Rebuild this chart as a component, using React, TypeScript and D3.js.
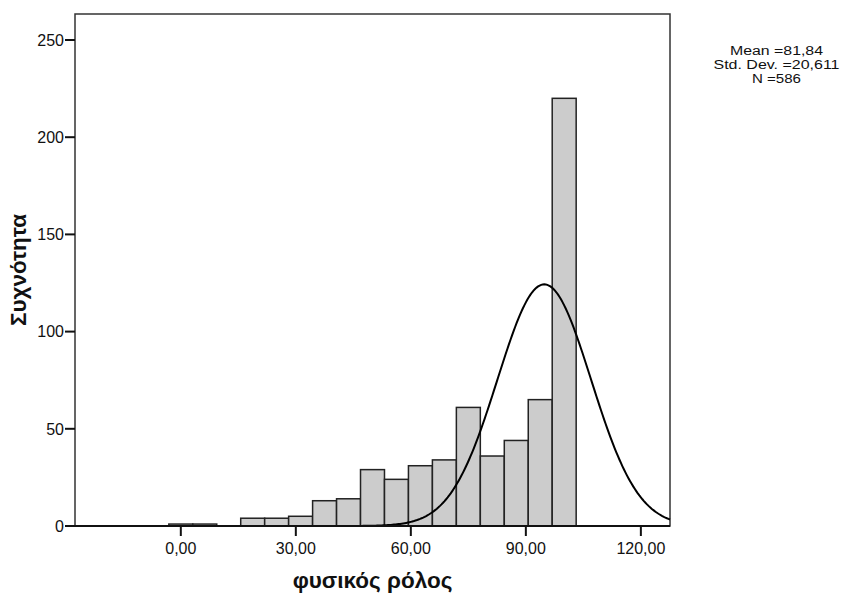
import React from "react";
import * as d3 from "d3";

const binCenters = [0, 6.25, 12.5, 18.75, 25, 31.25, 37.5, 43.75, 50, 56.25, 62.5, 68.75, 75, 81.25, 87.5, 93.75, 100];
const counts = [1, 1, 0, 4, 4, 5, 13, 14, 29, 24, 31, 34, 61, 36, 44, 65, 220];
const binWidth = 6.25;
const xTicks = [0, 30, 60, 90, 120];
const yTicks = [0, 50, 100, 150, 200, 250];
const statsLines = ["Mean =81,84", "Std. Dev. =20,611", "N =586"];
// normal curve as drawn in the reference (peak location, spread, peak height)
const curveMu = 94.8;
const curveSigma = 12.2;
const curvePeak = 124.3;

const W = 845, H = 595;
const left = 75, right = 670, top = 14, bottom = 526;

export default function App() {
  const x = d3.scaleLinear().domain([-27.6, 127.6]).range([left, right]);
  const y = d3.scaleLinear().domain([0, 250]).range([bottom, 40]);
  const font = "'Liberation Sans', Arial, sans-serif";

  const curvePts: [number, number][] = d3.range(-27.6, 127.61, 0.4).map((v) => [
    v,
    curvePeak * Math.exp(-((v - curveMu) ** 2) / (2 * curveSigma * curveSigma)),
  ]);
  const line = d3
    .line<[number, number]>()
    .x((d) => x(d[0]))
    .y((d) => y(d[1]))
    .curve(d3.curveLinear);

  const statsWidths = [93, 126, 49];

  return (
    <svg width={W} height={H} style={{ position: "absolute", left: 0, top: 0, background: "#fff" }}>
      <rect x={0} y={0} width={W} height={H} fill="#fff" />
      <rect x={left} y={top} width={right - left} height={bottom - top} fill="none" stroke="#333" strokeWidth={1.5} />
      {binCenters.map((c, i) =>
        counts[i] > 0 ? (
          <rect
            key={i}
            x={x(c - binWidth / 2)}
            y={y(counts[i])}
            width={x(c + binWidth / 2) - x(c - binWidth / 2)}
            height={bottom - y(counts[i])}
            fill="#cccccc"
            stroke="#222"
            strokeWidth={1.5}
          />
        ) : null
      )}
      <path d={line(curvePts) || ""} fill="none" stroke="#000" strokeWidth={2} />
      <line x1={left} x2={right} y1={bottom} y2={bottom} stroke="#111" strokeWidth={2} />
      {yTicks.map((t) => (
        <g key={t}>
          <line x1={left - 10} x2={left} y1={y(t)} y2={y(t)} stroke="#111" strokeWidth={2} />
          <text x={left - 11} y={y(t)} dy="0.36em" textAnchor="end" fontFamily={font} fontSize={16} fill="#111">
            {t}
          </text>
        </g>
      ))}
      {xTicks.map((t) => (
        <g key={t}>
          <line x1={x(t)} x2={x(t)} y1={bottom} y2={bottom + 10} stroke="#111" strokeWidth={2} />
          <text x={x(t)} y={554} textAnchor="middle" fontFamily={font} fontSize={16} fill="#111">
            {d3.format(".2f")(t).replace(".", ",")}
          </text>
        </g>
      ))}
      <text x={(left + right) / 2} y={588} textAnchor="middle" fontFamily={font} fontSize={22.5} fontWeight="bold" fill="#111">
        φυσικός ρόλος
      </text>
      <text
        transform={`translate(26, ${(top + bottom) / 2}) rotate(-90)`}
        textAnchor="middle"
        fontFamily={font}
        fontSize={22.5}
        fontWeight="bold"
        fill="#111"
      >
        Συχνότητα
      </text>
      {statsLines.map((s, i) => (
        <text
          key={s}
          x={776.5}
          y={55 + i * 14}
          textAnchor="middle"
          fontFamily={font}
          fontSize={12.5}
          textLength={statsWidths[i]}
          lengthAdjust="spacingAndGlyphs"
          fill="#111"
        >
          {s}
        </text>
      ))}
    </svg>
  );
}
